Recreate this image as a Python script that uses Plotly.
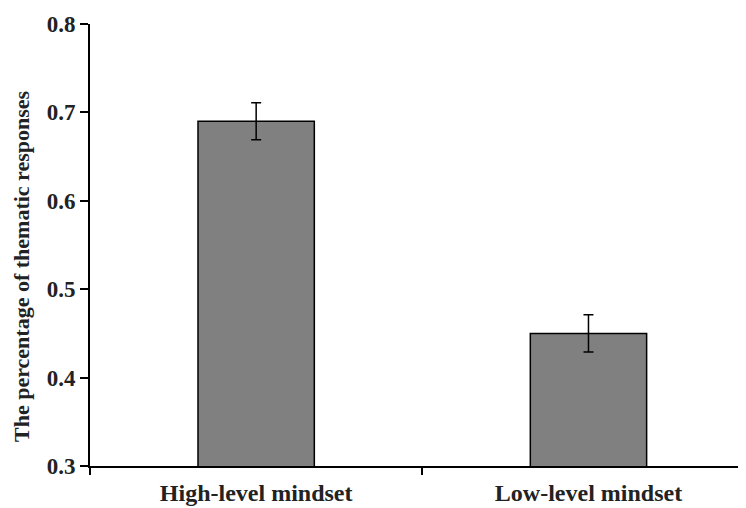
import plotly.graph_objects as go

categories = ["High-level mindset", "Low-level mindset"]
values = [0.69, 0.45]
errors = [0.021, 0.021]
y_ticks = [0.3, 0.4, 0.5, 0.6, 0.7, 0.8]
y_title = "The percentage of thematic responses"

serif = "Liberation Serif, Times New Roman, serif"
ink = "#222"

fig = go.Figure()
fig.add_trace(go.Bar(
    x=categories, y=values,
    width=0.35,
    marker=dict(color="#808080", line=dict(color="black", width=1.5)),
    error_y=dict(type="data", array=errors, color="black", thickness=1.5, width=5),
))

fig.update_layout(
    width=746, height=508,
    margin=dict(l=82, r=8, t=16, b=50),
    plot_bgcolor="white", paper_bgcolor="white",
    showlegend=False,
    font=dict(family=serif, size=18, color=ink),
    xaxis=dict(
        type="category", range=[-0.5, 1.474], automargin=False,
        showline=True, linecolor="black", linewidth=2,
        ticks="outside", tickson="boundaries", ticklen=7, tickwidth=1.5, tickcolor="black",
        tickvals=categories, ticktext=[f"<b>{c}</b>" for c in categories],
        tickfont=dict(family=serif, size=24, color=ink),
        ticklabelstandoff=4,
        showgrid=False, zeroline=False,
    ),
    yaxis=dict(
        range=[0.3, 0.8], automargin=False,
        tickvals=y_ticks, ticktext=[f"<b>{v:.1f}</b>" for v in y_ticks],
        showline=True, linecolor="black", linewidth=2,
        ticks="outside", ticklen=8, tickwidth=1.5, tickcolor="black",
        tickfont=dict(family=serif, size=23, color=ink),
        showgrid=False, zeroline=False,
    ),
)
fig.add_annotation(
    text=f"<b>{y_title}</b>", textangle=-90,
    xref="paper", yref="paper", x=-0.1037, y=0.4525,
    xanchor="center", yanchor="middle", showarrow=False,
    font=dict(family=serif, size=22, color=ink),
)

fig.write_html("out.html")
